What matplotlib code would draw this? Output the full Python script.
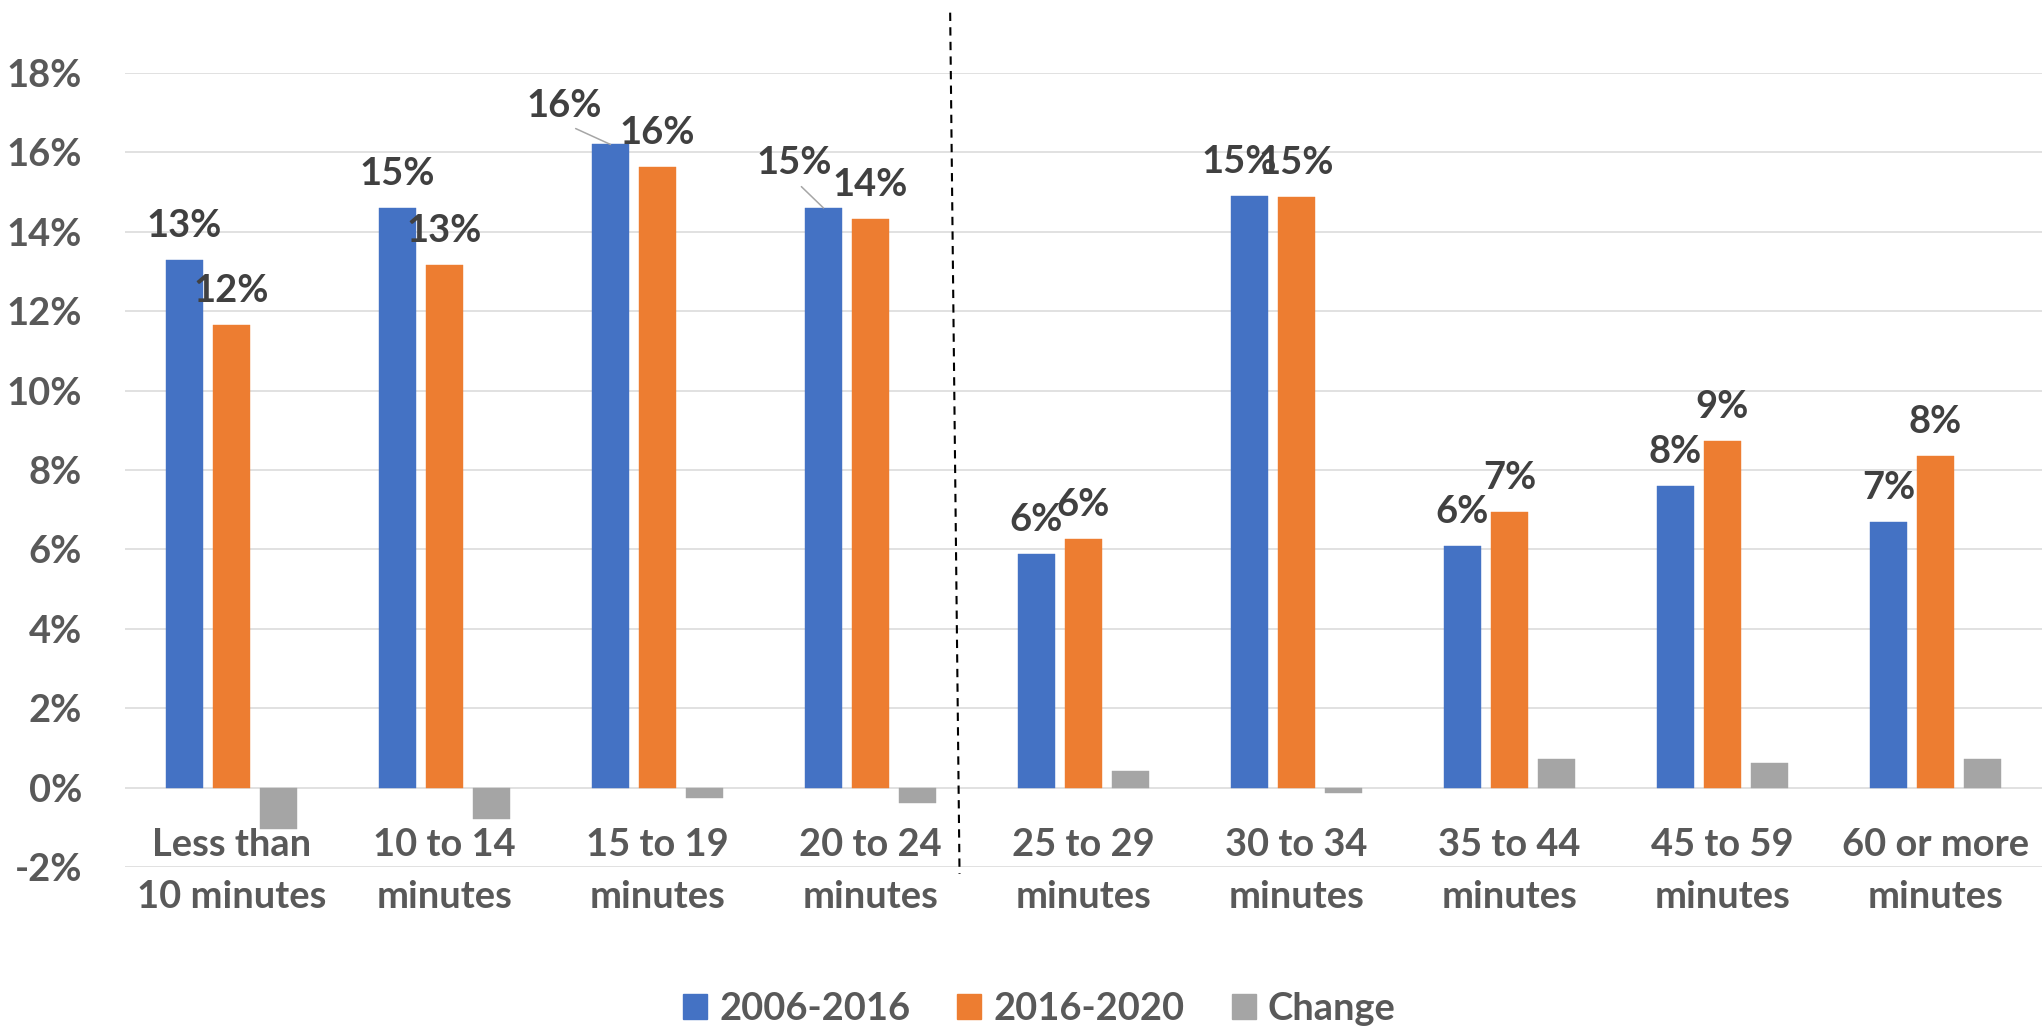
import matplotlib
matplotlib.use("Agg")
import matplotlib.pyplot as plt
from matplotlib.patches import Patch
import numpy as np

plt.rcParams['font.family'] = ['Lato', 'DejaVu Sans']

categories = ["Less than\n10 minutes", "10 to 14\nminutes", "15 to 19\nminutes",
              "20 to 24\nminutes", "25 to 29\nminutes", "30 to 34\nminutes",
              "35 to 44\nminutes", "45 to 59\nminutes", "60 or more\nminutes"]
series_names = ["2006-2016", "2016-2020", "Change"]
v_2006_2016 = [13.29, 14.60, 16.20, 14.60, 5.88, 14.89, 6.08, 7.59, 6.69]
v_2016_2020 = [11.65, 13.17, 15.62, 14.33, 6.25, 14.88, 6.94, 8.74, 8.35]
v_change = [-1.04, -0.78, -0.25, -0.38, 0.43, -0.13, 0.73, 0.63, 0.71]
y_ticks = list(range(-2, 19, 2))

colors = ["#4472C4", "#ED7D31", "#A5A5A5"]
label_color = "#404040"
axis_text = "#595959"
FS = 27.4
PX = 0.72  # points per pixel at dpi 100

fig = plt.figure(figsize=(20.44, 10.27), dpi=100)
ax = fig.add_axes([125 / 2044, 160 / 1027, 1917 / 2044, 794 / 1027])

x = np.arange(len(categories))
step = 0.2207
width = 0.174
series = [v_2006_2016, v_2016_2020, v_change]
for k, vals in enumerate(series):
    ax.bar(x + (k - 1) * step, vals, width=width, color=colors[k], zorder=3,
           edgecolor=colors[k], linewidth=0.3)

ax.set_xlim(-0.5, len(categories) - 0.5)
ax.set_ylim(-2, 18)
ax.set_yticks(y_ticks)
ax.set_yticklabels([f"{t}%" for t in y_ticks], fontsize=FS, fontweight='bold',
                   color=axis_text)
ax.tick_params(axis='y', length=0, pad=31)
ax.set_xticks([])
for s in ax.spines.values():
    s.set_visible(False)
ax.grid(axis='y', color='#D9D9D9', linewidth=1.1, zorder=0)
ax.set_axisbelow(True)

# category labels (two lines)
for i, cat in enumerate(categories):
    l1, l2 = cat.split("\n")
    for txt, off in ((l1, 11 * PX), (l2, -41 * PX)):
        ax.annotate(txt, xy=(i, 0), xycoords=('data', 'axes fraction'),
                    xytext=(0, off), textcoords='offset points',
                    ha='center', va='baseline', fontsize=FS,
                    fontweight='bold', color=axis_text, annotation_clip=False)

# data labels for the first two series
default_off = (0, 23)
special = {(0, 2): (-46, 27), (0, 3): (-29, 34), (0, 5): (-10, 23)}
leaders = {(0, 2), (0, 3)}
for k in range(2):
    for i, v in enumerate(series[k]):
        dx, dy = special.get((k, i), default_off)
        kw = {}
        if (k, i) in leaders:
            kw['arrowprops'] = dict(arrowstyle='-', color='#A6A6A6', lw=1.1,
                                    shrinkA=4, shrinkB=0, relpos=(0.5, 0.0))
        ax.annotate(f"{v:.0f}%", xy=(i + (k - 1) * step, v),
                    xytext=(dx * PX, dy * PX), textcoords='offset points',
                    ha='center', va='baseline', fontsize=FS, fontweight='bold',
                    color=label_color, zorder=5, **kw)

# dashed divider between 20-24 and 25-29
ax.plot([3.374, 3.418], [19.52, -2.17], color='black', lw=1.5,
        linestyle=(0, (4, 3)), clip_on=False, zorder=4)

handles = [Patch(facecolor=c, edgecolor=c) for c in colors]
fig.legend(handles, series_names, loc='center', bbox_to_anchor=(0.5085, 0.018),
           ncol=3, frameon=False, fontsize=FS, handlelength=0.63,
           handleheight=0.63, handletextpad=0.32, columnspacing=1.24,
           prop={'weight': 'bold', 'size': FS}, labelcolor=axis_text)

fig.savefig("out.png", dpi=100)
